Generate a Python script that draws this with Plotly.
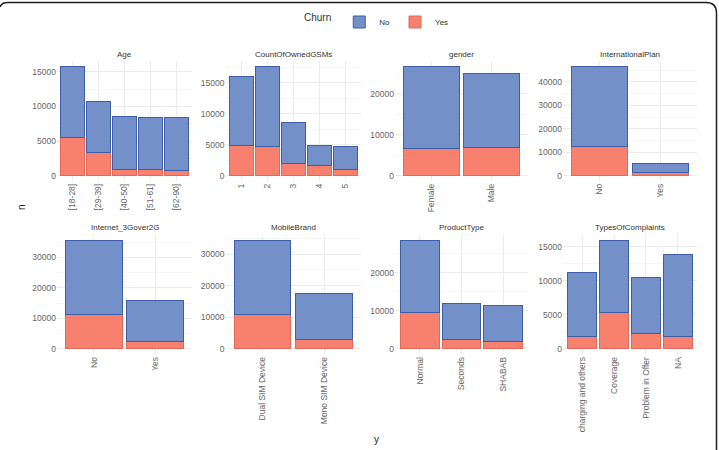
import plotly.graph_objects as go
from plotly.subplots import make_subplots

# ---- data ----
age_cats = ["[18-28]", "[29-39]", "[40-50]", "[51-61]", "[62-90]"]
age_no = [10180, 7400, 7690, 7450, 7580]
age_yes = [5540, 3370, 820, 920, 790]

gsm_cats = ["1", "2", "3", "4", "5"]
gsm_no = [11220, 12830, 6690, 3230, 3670]
gsm_yes = [4850, 4750, 1940, 1620, 970]

gender_cats = ["Female", "Male"]
gender_no = [19840, 18120]
gender_yes = [6720, 6800]

intl_cats = ["No", "Yes"]
intl_no = [33960, 4010]
intl_yes = [12460, 1150]

inet_cats = ["No", "Yes"]
inet_no = [24320, 13190]
inet_yes = [11230, 2510]

brand_cats = ["Dual SIM Device", "Mono SIM Device"]
brand_no = [23480, 14520]
brand_yes = [10840, 2950]

prod_cats = ["Normal", "Seconds", "SHABAB"]
prod_no = [18860, 9430, 9350]
prod_yes = [9610, 2360, 1920]

compl_cats = ["charging and others", "Coverage", "Problem in Offer", "NA"]
compl_no = [9380, 10650, 8210, 12020]
compl_yes = [1810, 5280, 2300, 1860]

panels = [
    ("Age", age_cats, age_no, age_yes, 5000),
    ("CountOfOwnedGSMs", gsm_cats, gsm_no, gsm_yes, 5000),
    ("gender", gender_cats, gender_no, gender_yes, 10000),
    ("InternationalPlan", intl_cats, intl_no, intl_yes, 10000),
    ("Internet_3Gover2G", inet_cats, inet_no, inet_yes, 10000),
    ("MobileBrand", brand_cats, brand_no, brand_yes, 10000),
    ("ProductType", prod_cats, prod_no, prod_yes, 10000),
    ("TypesOfComplaints", compl_cats, compl_no, compl_yes, 5000),
]

W, H = 719, 450
FONT = "Liberation Sans, Arial, sans-serif"
NO_FILL, NO_LINE = "#7390C9", "#3D5DA8"
YES_FILL, YES_LINE = "#F8806F", "#E2685B"
GRID, MINOR = "#EBEBEB", "#F5F5F5"
TICK = "#666666"

col_px = [(57, 192), (225.5, 361), (395, 528), (563, 697)]
row_px = [(61.3, 181.1), (234.9, 354.4)]

fig = make_subplots(rows=2, cols=4, horizontal_spacing=0.05, vertical_spacing=0.1)

for i, (title, cats, no, yes, dt) in enumerate(panels):
    r, c = i // 4 + 1, i % 4 + 1
    fig.add_trace(go.Bar(x=cats, y=yes, name="Yes", width=0.92, legendgroup="Yes",
                         showlegend=(i == 0), legendrank=2,
                         marker=dict(color=YES_FILL, line=dict(color=YES_LINE, width=1))),
                  row=r, col=c)
    fig.add_trace(go.Bar(x=cats, y=no, name="No", width=0.92, legendgroup="No",
                         showlegend=(i == 0), legendrank=1,
                         marker=dict(color=NO_FILL, line=dict(color=NO_LINE, width=1))),
                  row=r, col=c)
    totals = [a + b for a, b in zip(no, yes)]
    m = max(totals)
    x0, x1 = col_px[c - 1]
    y0, y1 = row_px[r - 1]
    fig.update_xaxes(row=r, col=c, type="category", categoryorder="array", categoryarray=cats,
                     range=[-0.6, len(cats) - 0.4], domain=[x0 / W, x1 / W],
                     showgrid=True, gridcolor=GRID, gridwidth=1, tickangle=-90,
                     tickfont=dict(size=8.5, color=TICK, family=FONT),
                     showline=False, zeroline=False, ticks="")
    fig.update_yaxes(row=r, col=c, range=[-0.05 * m, 1.05 * m], domain=[1 - y1 / H, 1 - y0 / H],
                     dtick=dt, tick0=0, tickformat="d", showgrid=True, gridcolor=GRID, gridwidth=1,
                     minor=dict(dtick=dt / 2, tick0=0, showgrid=True, gridcolor=MINOR, gridwidth=0.6),
                     tickfont=dict(size=8.5, color=TICK, family=FONT),
                     showline=False, zeroline=False, ticks="")
    fig.add_annotation(text=title, x=(x0 + x1) / 2 / W, y=1 - (y0 - 7) / H, xref="paper", yref="paper",
                       showarrow=False, font=dict(size=8, color="#333333", family=FONT),
                       xanchor="center", yanchor="middle")

# axis titles
fig.add_annotation(text="n", x=22 / W, y=1 - 207 / H, xref="paper", yref="paper", showarrow=False,
                   xanchor="center", yanchor="middle",
                   textangle=-90, font=dict(size=10, color="#222222", family=FONT))
fig.add_annotation(text="y", x=377 / W, y=1 - 439 / H, xref="paper", yref="paper", showarrow=False,
                   xanchor="center", yanchor="middle",
                   font=dict(size=10, color="#222222", family=FONT))

# screenshot frame (top and right edges with rounded corners)
def P(px, py):
    return f"{px / W},{1 - py / H}"

frame = (f"M {P(0, 7)} Q {P(1.5, 2.5)} {P(8, 2.5)} L {P(706, 2.5)} "
         f"Q {P(716.5, 2.5)} {P(716.5, 13)} L {P(716.5, 450)}")
fig.add_shape(type="path", path=frame, xref="paper", yref="paper",
              line=dict(color="#1E1E1E", width=1.5))

fig.update_layout(
    width=W, height=H, barmode="stack",
    margin=dict(l=0, r=0, t=0, b=0),
    paper_bgcolor="white", plot_bgcolor="white",
    font=dict(family=FONT, color="#333333"),
    legend=dict(orientation="h", x=378 / W, xanchor="center", y=1 - 22 / H, yanchor="middle",
                title=dict(text="Churn", font=dict(size=10, color="#333333")),
                font=dict(size=8, color="#333333"), itemwidth=30, traceorder="normal"),
)

fig.write_html("out.html")
